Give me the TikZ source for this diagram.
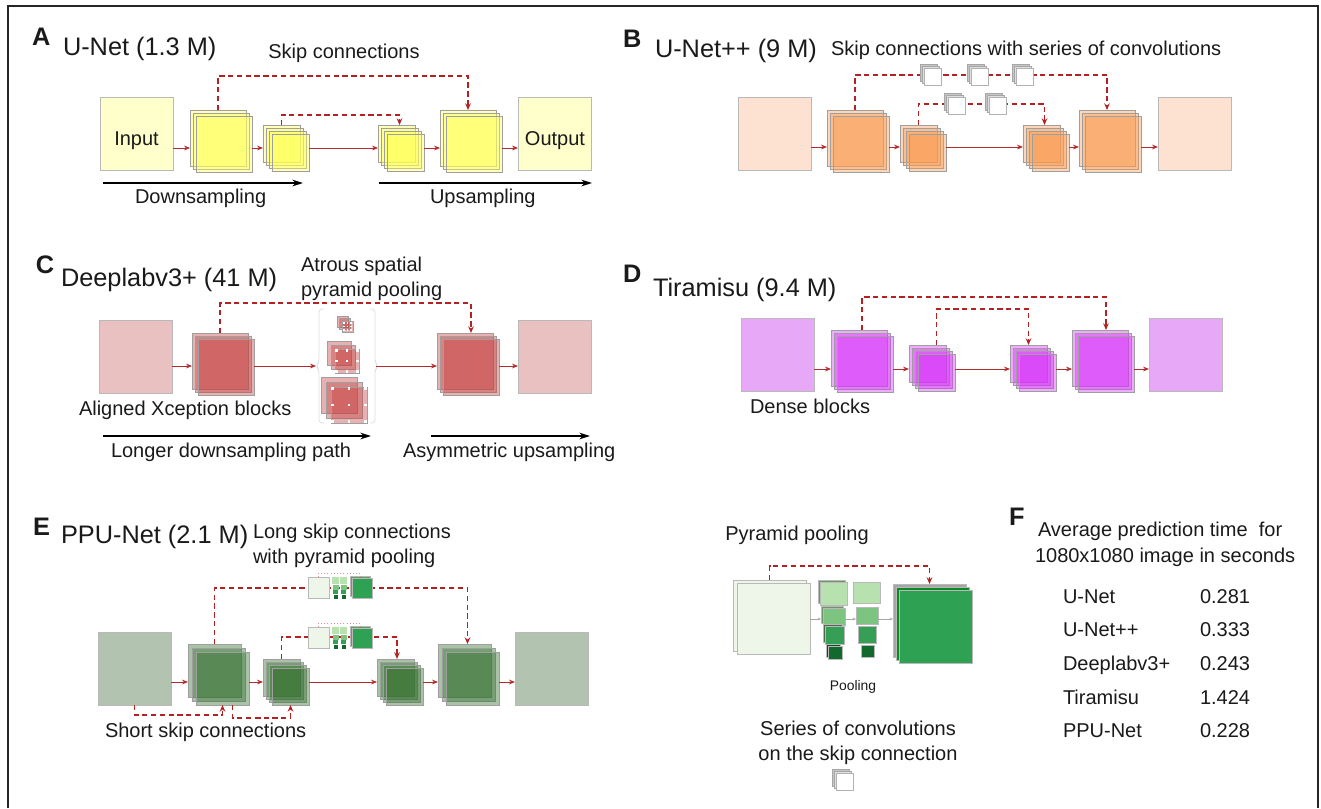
\documentclass[tikz,border=0pt]{standalone}
\usepackage{fontspec}
\setmainfont{Liberation Sans}
\usetikzlibrary{arrows.meta,calc}
\definecolor{skipc}{HTML}{B22222}
\definecolor{flowc}{HTML}{B52A2A}
\definecolor{txt}{HTML}{1A1A1A}
\definecolor{Abox}{HTML}{FFFFCC}
\definecolor{Astk}{HTML}{FFFF55}
\definecolor{Bbox}{HTML}{FDE2D2}
\definecolor{Bstk}{HTML}{FA9A50}
\definecolor{Cbox}{HTML}{E9C1C1}
\definecolor{Cstk}{HTML}{C43C3C}
\definecolor{Dbox}{HTML}{E7A8F8}
\definecolor{Dstk}{HTML}{D530F8}
\definecolor{Ebox}{HTML}{B2C3B0}
\definecolor{Estk}{HTML}{2C6A26}
\definecolor{ppl}{HTML}{EEF6EA}
\definecolor{pg1}{HTML}{B8E1B0}
\definecolor{pg2}{HTML}{7CC47F}
\definecolor{pg3}{HTML}{35A055}
\definecolor{pg4}{HTML}{11692E}
\definecolor{pgd}{HTML}{2FA152}
\definecolor{pgsh}{HTML}{6E946A}
\tikzset{
 every node/.style={inner sep=0pt, outer sep=0pt, text=txt},
 ttl/.style={font=\fontsize{19}{22}\selectfont, anchor=base west},
 lbl/.style={font=\fontsize{15}{18}\selectfont, anchor=base west},
 plet/.style={font=\bfseries\fontsize{19}{22}\selectfont, anchor=base west},
 flow/.style={draw=flowc, line width=0.6pt, -{Stealth[length=4.5pt,width=3.6pt]}},
 skip/.style={draw=skipc, line width=1.1pt, dash pattern=on 4pt off 2.6pt, -{Stealth[length=5pt,width=4.2pt]}},
 dirarr/.style={draw=black, line width=1pt, -{Stealth[length=8pt,width=5pt]}},
 plainbox/.style={draw=gray!55, line width=0.55pt, anchor=north west},
 layer/.style={draw=gray!75, line width=0.5pt, fill opacity=0.4, anchor=north west},
 brc/.style={draw=gray!25, line width=0.6pt},
 cubef/.style={draw=gray!60, line width=0.5pt, fill=white, minimum size=12.75pt, anchor=center},
 cubeb/.style={draw=gray!70, line width=0.5pt, fill=gray!45, minimum size=12.75pt, anchor=center},
 cubem/.style={draw=gray!70, line width=0.5pt, fill=gray!25, minimum size=12.75pt, anchor=center},
 smallarr/.style={draw=gray!70, line width=0.5pt, -{Stealth[length=2.5pt,width=2pt]}},
 dotc/.style={draw=skipc!50, line width=0.4pt, dotted},
}
\newcommand{\stk}[7]{\foreach \i in {1,...,#5}{\node[layer, fill=#7, minimum size=#4*0.75pt] (#1-\i) at ({#2+(\i-1)*#6},{#3+(\i-1)*#6}) {};}}
\newcommand{\cubeicon}[3]{%
 \node[cubeb] (#1c) at (#2-4,#3-4) {};
 \node[cubem] (#1b) at (#2-2,#3-2) {};
 \node[cubef] (#1) at (#2,#3) {};}
\newcommand{\dotgrid}[3]{\foreach \u in {-1,0,1}{\foreach \v in {-1,0,1}{\fill[white] ($(#1)+(\u*#2-#3,\v*#2-#3)$) rectangle ++(2*#3,2*#3);}}}
\newcommand{\minipp}[3]{%
 \node[plainbox, fill=ppl, minimum size=15.75pt] (#1a) at (#2,#3) {};
 \fill[pg1] (#2+24,#3) rectangle ++(7,7);
 \fill[pg2] (#2+24.5,#3+7.5) rectangle ++(6,5);
 \fill[pg3] (#2+25,#3+13) rectangle ++(5,4);
 \fill[pg4] (#2+25.5,#3+17.5) rectangle ++(4,4);
 \fill[pg1] (#2+32,#3) rectangle ++(7,7);
 \fill[pg2] (#2+32.5,#3+7.5) rectangle ++(6,5);
 \fill[pg3] (#2+33,#3+13) rectangle ++(5,4);
 \fill[pg4] (#2+33.5,#3+17.5) rectangle ++(4,4);
 \node[plainbox, fill=pgsh, minimum size=15pt] (#1s) at (#2+42,#3-1) {};
 \node[plainbox, fill=pgd, minimum size=15pt] (#1b) at (#2+44,#3+1) {};
 \draw[dotc] (#1a.north) -- ++(0,-4) -| (#1s.north);}
\begin{document}
\begin{tikzpicture}[x=0.75pt,y=-0.75pt]
\useasboundingbox (0,0) rectangle (1321,808);
\fill[white] (0,0) rectangle (1321,808);
\draw[line width=1.1pt, draw=black!85] (8,808) -- (8,6) -- (1318,6) -- (1318,808);

% ---------------- Panel A
\node[plet] (labA) at (32,45) {A};
\node[ttl] (tA) at (63,55) {U-Net (1.3 M)};
\node[lbl, anchor=base] (skA) at (344,58) {Skip connections};
\node[plainbox, fill=Abox, minimum size=54.75pt] (inA) at (100,97) {};
\stk{a1}{190}{110}{56}{3}{3}{Astk}
\stk{a2}{263}{125}{37}{4}{3}{Astk}
\stk{a3}{378}{125}{37}{4}{3}{Astk}
\stk{a4}{440}{110}{56}{3}{3}{Astk}
\node[plainbox, fill=Abox, minimum size=54.75pt] (outA) at (518,97) {};
\node[lbl, anchor=base] (inAt) at (136.5,145) {Input};
\node[lbl, anchor=base] (outAt) at (555,145) {Output};
\coordinate (fA) at (0,148);
\draw[flow] (inA.east |- fA) -- (a1-1.west |- fA);
\draw[flow] (a1-3.east |- fA) -- (a2-1.west |- fA);
\draw[flow] (a2-4.east |- fA) -- (a3-1.west |- fA);
\draw[flow] (a3-4.east |- fA) -- (a4-1.west |- fA);
\draw[flow] (a4-3.east |- fA) -- (outA.west |- fA);
\coordinate (kA1) at (300,76);
\draw[skip] (a1-1.north) |- (kA1) -| (a4-1.north);
\coordinate (kA2) at (330,115);
\draw[skip] (a2-1.north) |- (kA2) -| ($(a3-1.north)+(3,0)$);
\coordinate (dA1) at (103,183); \coordinate (dA2) at (303,183);
\draw[dirarr] (dA1) -- (dA2);
\node[lbl] (dAt) at (135,203) {Downsampling};
\coordinate (uA1) at (379,183); \coordinate (uA2) at (592,183);
\draw[dirarr] (uA1) -- (uA2);
\node[lbl] (uAt) at (430,203) {Upsampling};

% ---------------- Panel B
\node[plet] (labB) at (623,47) {B};
\node[ttl] (tB) at (655,57) {U-Net++ (9 M)};
\node[lbl] (skB) at (831,55) {Skip connections with series of convolutions};
\node[plainbox, fill=Bbox, minimum size=54.75pt] (inB) at (738,97) {};
\stk{b1}{827}{110}{56}{3}{3}{Bstk}
\stk{b2}{900}{125}{37}{4}{3}{Bstk}
\stk{b3}{1023}{125}{37}{4}{3}{Bstk}
\stk{b4}{1079}{110}{56}{3}{3}{Bstk}
\node[plainbox, fill=Bbox, minimum size=54.75pt] (outB) at (1158,97) {};
\coordinate (fB) at (0,147);
\draw[flow] (inB.east |- fB) -- (b1-1.west |- fB);
\draw[flow] (b1-3.east |- fB) -- (b2-1.west |- fB);
\draw[flow] (b2-4.east |- fB) -- (b3-1.west |- fB);
\draw[flow] (b3-4.east |- fB) -- (b4-1.west |- fB);
\draw[flow] (b4-3.east |- fB) -- (outB.west |- fB);
\coordinate (kB1) at (950,75);
\draw[skip] (b1-1.north) |- (kB1) -| (b4-1.north);
\coordinate (kB2) at (970,104);
\draw[skip] (b2-1.north) |- (kB2) -| ($(b3-1.north)+(3,0)$);
\cubeicon{cb1}{933}{77}
\cubeicon{cb2}{980}{77}
\cubeicon{cb3}{1025}{77}
\cubeicon{cb4}{957}{106}
\cubeicon{cb5}{998}{106}

% ---------------- Panel C
\node[plet] (labC) at (36,273) {C};
\node[ttl] (tC) at (61,286) {Deeplabv3+ (41 M)};
\node[lbl] (aspC1) at (301,271) {Atrous spatial};
\node[lbl] (aspC2) at (301,296) {pyramid pooling};
\node[plainbox, fill=Cbox, minimum size=54.75pt] (inC) at (99,320) {};
\stk{c1}{192}{333}{56}{3}{3}{Cstk}
\stk{c3}{437}{333}{56}{3}{3}{Cstk}
\node[plainbox, fill=Cbox, minimum size=54.75pt] (outC) at (518,320) {};
\node[minimum width=45pt, minimum height=85.5pt, anchor=north west] (aspp) at (316,309) {};
\draw[brc, rounded corners=2.5pt] (324,309) -- (319,309) -- (319,362) -- (316,366) -- (319,370) -- (319,423) -- (324,423);
\draw[brc, rounded corners=2.5pt] (370,309) -- (375,309) -- (375,362) -- (378,366) -- (375,370) -- (375,423) -- (370,423);
\stk{p1}{337}{316}{11}{3}{2.5}{Cstk}
\dotgrid{p1-3.center}{3.3}{0.8}
\stk{p2}{327}{341}{24}{3}{4}{Cstk}
\dotgrid{p2-3.center}{10.5}{1.2}
\stk{p3}{321}{377}{36}{3}{5}{Cstk}
\dotgrid{p3-3.center}{16.5}{1.3}
\coordinate (fC) at (0,366);
\draw[flow] (inC.east |- fC) -- (c1-1.west |- fC);
\draw[flow] (c1-3.east |- fC) -- (aspp.west |- fC);
\draw[flow] (aspp.east |- fC) -- (c3-1.west |- fC);
\draw[flow] (c3-3.east |- fC) -- (outC.west |- fC);
\coordinate (kC) at (330,303);
\draw[skip] (c1-1.north) |- (kC) -| ($(c3-1.north)+(6,0)$);
\node[lbl] (axC) at (79,415) {Aligned Xception blocks};
\coordinate (dC1) at (103,436); \coordinate (dC2) at (371,436);
\draw[dirarr] (dC1) -- (dC2);
\node[lbl] (dCt) at (111,457) {Longer downsampling path};
\coordinate (uC1) at (431,436); \coordinate (uC2) at (590,436);
\draw[dirarr] (uC1) -- (uC2);
\node[lbl] (uCt) at (403,457) {Asymmetric upsampling};

% ---------------- Panel D
\node[plet] (labD) at (623,282) {D};
\node[ttl] (tD) at (653,296) {Tiramisu (9.4 M)};
\node[plainbox, fill=Dbox, minimum size=54.75pt] (inD) at (741,318) {};
\stk{d1}{831}{330}{56}{3}{3}{Dstk}
\stk{d2}{909}{345}{37}{4}{3}{Dstk}
\stk{d3}{1010}{345}{37}{4}{3}{Dstk}
\stk{d4}{1072}{330}{56}{3}{3}{Dstk}
\node[plainbox, fill=Dbox, minimum size=54.75pt] (outD) at (1149,318) {};
\coordinate (fD) at (0,369);
\draw[flow] (inD.east |- fD) -- (d1-1.west |- fD);
\draw[flow] (d1-3.east |- fD) -- (d2-1.west |- fD);
\draw[flow] (d2-4.east |- fD) -- (d3-1.west |- fD);
\draw[flow] (d3-4.east |- fD) -- (d4-1.west |- fD);
\draw[flow] (d4-3.east |- fD) -- (outD.west |- fD);
\coordinate (kD1) at (980,297);
\draw[skip] ($(d1-1.north)+(3,0)$) |- (kD1) -| ($(d4-1.north)+(6,0)$);
\coordinate (kD2) at (980,309);
\draw[skip] ($(d2-1.north)+(9,0)$) |- (kD2) -| (d3-1.north);
\node[lbl] (dbD) at (750,413) {Dense blocks};

% ---------------- Panel E
\node[plet] (labE) at (33,535) {E};
\node[ttl] (tE) at (61,543) {PPU-Net (2.1 M)};
\node[lbl] (lsE1) at (253,538) {Long skip connections};
\node[lbl] (lsE2) at (253,563) {with pyramid pooling};
\node[plainbox, fill=Ebox, minimum size=54.75pt] (inE) at (98,632) {};
\stk{e1}{188}{644}{53}{3}{4}{Estk}
\stk{e2}{263}{659}{37}{4}{3}{Estk}
\stk{e3}{377}{659}{37}{4}{3}{Estk}
\stk{e4}{438}{644}{53}{3}{4}{Estk}
\node[plainbox, fill=Ebox, minimum size=54.75pt] (outE) at (515,632) {};
\coordinate (fE) at (0,682);
\draw[flow] (inE.east |- fE) -- (e1-1.west |- fE);
\draw[flow] (e1-3.east |- fE) -- (e2-1.west |- fE);
\draw[flow] (e2-4.east |- fE) -- (e3-1.west |- fE);
\draw[flow] (e3-4.east |- fE) -- (e4-1.west |- fE);
\draw[flow] (e4-3.east |- fE) -- (outE.west |- fE);
\coordinate (kE1) at (300,588);
\draw[skip] (e1-1.north) |- (kE1) -| ($(e4-1.north)+(3,0)$);
\coordinate (kE2) at (300,637);
\draw[skip] (e2-1.north) |- (kE2) -| ($(e3-1.north)+(1.5,0)$);
\minipp{mpA}{308}{577}
\minipp{mpB}{308}{627}
\coordinate (kE3) at (180,715);
\draw[skip] (inE.south) |- (kE3) -| (e1-3.south);
\coordinate (kE4) at (260,718);
\draw[skip] ($(e1-3.south)+(10,0)$) |- (kE4) -| (e2-4.south);
\node[lbl] (ssE) at (105,737) {Short skip connections};

% ---------------- Pyramid pooling
\node[lbl, anchor=base] (ppT) at (797,540) {Pyramid pooling};
\node[plainbox, fill=ppl, minimum width=54.75pt, minimum height=53.25pt] (pl1) at (733,580) {};
\node[plainbox, fill=ppl, minimum width=54.75pt, minimum height=53.25pt] (pl2) at (737,583) {};
\node[plainbox, fill=pgsh, minimum width=20.25pt, minimum height=17.25pt] (pc1s) at (818,580) {};
\node[plainbox, fill=pg1, minimum width=20.25pt, minimum height=17.25pt] (pc1) at (820,582) {};
\node[plainbox, fill=pgsh, minimum width=16.5pt, minimum height=12.75pt] (pc2s) at (821,606) {};
\node[plainbox, fill=pg2, minimum width=16.5pt, minimum height=12.75pt] (pc2) at (823,608) {};
\node[plainbox, fill=pgsh!70!black, minimum width=14.25pt, minimum height=13.5pt] (pc3s) at (823,624) {};
\node[plainbox, fill=pg3, minimum width=14.25pt, minimum height=13.5pt] (pc3) at (825,626) {};
\node[plainbox, fill=pg4!70!black, minimum width=10.5pt, minimum height=9.75pt] (pc4s) at (826,644) {};
\node[plainbox, fill=pg4, minimum width=10.5pt, minimum height=9.75pt] (pc4) at (828,646) {};
\node[plainbox, fill=pg1, minimum width=20.25pt, minimum height=15.75pt] (pd1) at (853,582) {};
\node[plainbox, fill=pg2, minimum width=16.5pt, minimum height=12.75pt] (pd2) at (856,607) {};
\node[plainbox, fill=pg3, minimum width=13.5pt, minimum height=12.75pt] (pd3) at (858,626) {};
\node[plainbox, fill=pg4, minimum width=9.75pt, minimum height=9pt] (pd4) at (861,645) {};
\node[plainbox, fill=gray!70, minimum size=54.75pt] (pr1) at (893,584) {};
\node[plainbox, fill=pg4!80!green, minimum size=54.75pt] (pr2) at (896,587) {};
\node[plainbox, fill=pgd, minimum size=54.75pt] (pr3) at (899,590) {};
\coordinate (fP) at (0,619);
\draw[smallarr] (pl2.east |- fP) -- (pc2s.west |- fP);
\draw[smallarr] (pc2.east |- fP) -- (pd2.west |- fP);
\draw[smallarr] (pd2.east |- fP) -- (pr1.west |- fP);
\coordinate (kP) at (850,566);
\draw[skip, line width=0.8pt] (pl1.north) |- (kP) -| (pr1.north);
\node[font=\fontsize{10.4}{12}\selectfont, anchor=base] (poolT) at (853,690) {Pooling};
\node[lbl, anchor=base] (scT1) at (858,735) {Series of convolutions};
\node[lbl, anchor=base] (scT2) at (858,760) {on the skip connection};
\cubeicon{cbL}{845}{782}

% ---------------- Panel F
\node[plet] (labF) at (1009,525) {F};
\node[lbl] (fT1) at (1038,536) {Average prediction time\ \ for};
\node[lbl] (fT2) at (1035,562) {1080x1080 image in seconds};
\node[lbl] (r1a) at (1063,603) {U-Net};      \node[lbl] (r1b) at (1200,603) {0.281};
\node[lbl] (r2a) at (1063,636) {U-Net++};    \node[lbl] (r2b) at (1200,636) {0.333};
\node[lbl] (r3a) at (1063,670) {Deeplabv3+}; \node[lbl] (r3b) at (1200,670) {0.243};
\node[lbl] (r4a) at (1063,704) {Tiramisu};   \node[lbl] (r4b) at (1200,704) {1.424};
\node[lbl] (r5a) at (1063,737) {PPU-Net};    \node[lbl] (r5b) at (1200,737) {0.228};
\end{tikzpicture}
\end{document}
